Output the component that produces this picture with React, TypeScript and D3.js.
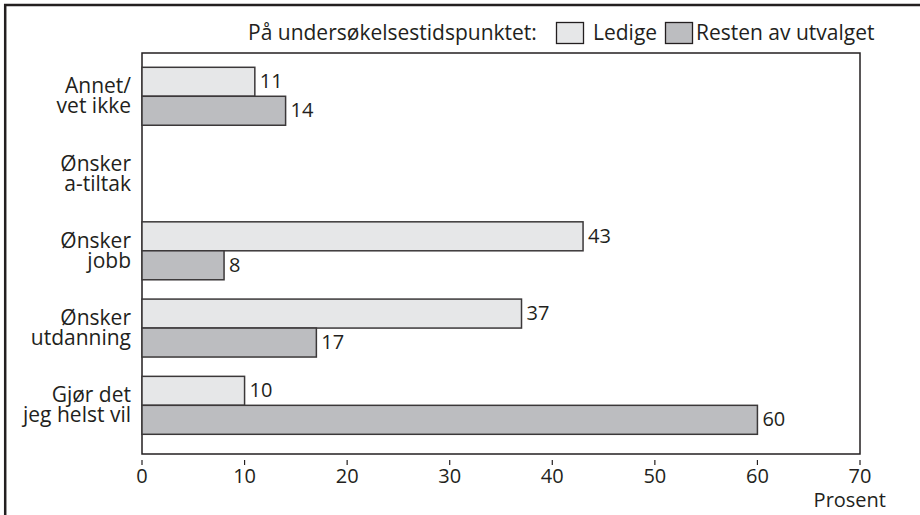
import React from "react";
import * as d3 from "d3";

const categories = [
  ["Annet/", "vet ikke"],
  ["Ønsker", "a-tiltak"],
  ["Ønsker", "jobb"],
  ["Ønsker", "utdanning"],
  ["Gjør det", "jeg helst vil"],
];
const ledige: (number | null)[] = [11, null, 43, 37, 10];
const resten: (number | null)[] = [14, null, 8, 17, 60];
const xTicks = [0, 10, 20, 30, 40, 50, 60, 70];
const seriesNames = ["Ledige", "Resten av utvalget"];
const legendTitle = "På undersøkelsestidspunktet:";
const axisTitle = "Prosent";

const W = 920;
const H = 515;
const FONT = "'Open Sans', 'Noto Sans', sans-serif";
const FS = 21;
const FN = 20;
const DARK = "#231f20";
const C_LEDIGE = "#e6e7e8";
const C_RESTEN = "#bcbdc0";

export default function App() {
  const plot = { left: 142, right: 860, top: 53, bottom: 454 };
  const x = d3.scaleLinear().domain([0, 70]).range([plot.left, plot.right]);
  const keys = categories.map((_, i) => String(i));
  const y = d3
    .scaleBand<string>()
    .domain(keys)
    .range([67.3, 434.3])
    .paddingInner(0.25)
    .paddingOuter(0);
  const bh = y.bandwidth() / 2;

  const series = [
    { vals: ledige, color: C_LEDIGE, off: 0 },
    { vals: resten, color: C_RESTEN, off: bh },
  ];

  return (
    <svg
      width={W}
      height={H}
      style={{ position: "absolute", left: 0, top: 0 }}
      fontFamily={FONT}
    >
      <rect x={0} y={0} width={W} height={H} fill="#fff" />
      {/* outer frame (top + left) */}
      <line x1={4} y1={5} x2={W} y2={5} stroke={DARK} strokeWidth={2.5} />
      <line x1={5.2} y1={4} x2={5.2} y2={H} stroke={DARK} strokeWidth={2.5} />

      {/* legend */}
      <text x={248} y={40} fontSize={FS} fill={DARK}>
        {legendTitle}
      </text>
      <rect x={556.5} y={22.5} width={27} height={21} fill={C_LEDIGE} stroke={DARK} strokeWidth={1.3} />
      <text x={593} y={40} fontSize={FS} fill={DARK}>
        {seriesNames[0]}
      </text>
      <rect x={665.5} y={22.5} width={27} height={21} fill={C_RESTEN} stroke={DARK} strokeWidth={1.3} />
      <text x={696} y={40} fontSize={FS} fill={DARK}>
        {seriesNames[1]}
      </text>

      {/* plot frame */}
      <rect
        x={plot.left}
        y={plot.top}
        width={plot.right - plot.left}
        height={plot.bottom - plot.top}
        fill="none"
        stroke={DARK}
        strokeWidth={1.5}
      />

      {/* bars */}
      {series.map((s, si) =>
        s.vals.map((v, i) => {
          if (v == null) return null;
          const yy = (y(keys[i]) as number) + s.off;
          return (
            <g key={`${si}-${i}`}>
              <rect
                x={x(0)}
                y={yy}
                width={x(v) - x(0)}
                height={bh}
                fill={s.color}
                stroke="#3b3839"
                strokeWidth={1.5}
              />
              <text
                x={x(v) + 5}
                y={yy + bh / 2 + 6.5}
                fontSize={FN}
                fill={DARK}
              >
                {v}
              </text>
            </g>
          );
        })
      )}

      {/* category labels */}
      {categories.map((lines, i) => {
        const cy = (y(keys[i]) as number) + y.bandwidth() / 2;
        return (
          <g key={i}>
            <text x={131} y={cy - 3} textAnchor="end" fontSize={FS} fill={DARK}>
              {lines[0]}
            </text>
            <text x={131} y={cy + 17} textAnchor="end" fontSize={FS} fill={DARK}>
              {lines[1]}
            </text>
          </g>
        );
      })}

      {/* x axis */}
      {xTicks.map((t) => (
        <g key={t}>
          <line x1={x(t)} x2={x(t)} y1={460} y2={465} stroke={DARK} strokeWidth={1.2} />
          <text x={x(t)} y={483} textAnchor="middle" fontSize={FN} fill={DARK}>
            {t}
          </text>
        </g>
      ))}
      <text x={886} y={507} textAnchor="end" fontSize={FN} fill={DARK}>
        {axisTitle}
      </text>
    </svg>
  );
}
